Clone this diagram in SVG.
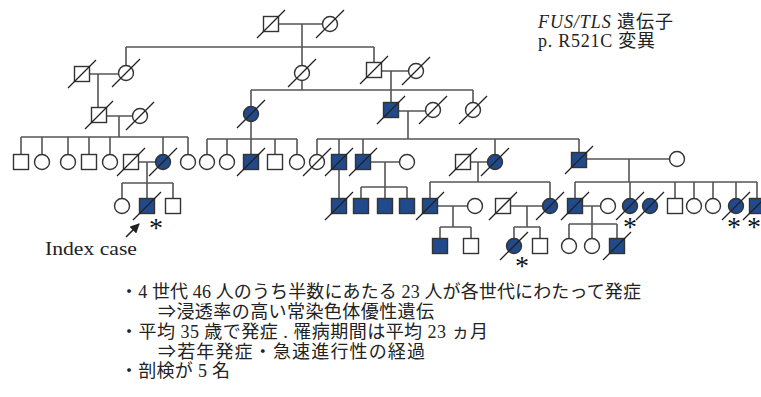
<svg xmlns="http://www.w3.org/2000/svg" width="761" height="397" viewBox="0 0 761 397">
<style>
.ln{stroke:#555;stroke-width:1.6;fill:none}
.n{fill:#fff;stroke:#333;stroke-width:1.4}
.a{fill:#204a8c;stroke:#333;stroke-width:1.4}
.sl{stroke:#222;stroke-width:1.3}
.t{font-family:"Liberation Serif","Noto Sans CJK JP",serif;font-size:18px;fill:#222}
.ast{font-family:"Liberation Serif",serif;font-size:28px;fill:#111;text-anchor:middle}
</style>
<defs>
<marker id="ah" viewBox="0 0 10 10" refX="9" refY="5" markerWidth="6" markerHeight="6" orient="auto"><path d="M0,0 L10,5 L0,10 z" fill="#222"/></marker>
</defs>
<rect width="761" height="397" fill="#fff"/>
<g id="connectors">
<path class="ln" d="M279,24H322M302,24V47M126,47H374M126,47V65.5M302,47V65.5M374,47V62.5"/>
<path class="ln" d="M89.5,74H118.5M98,74V107.5M302,80.5V90M251,90H473M251,90V106.5M473,90V102.5M381.5,71H408.5M391,71V102.5"/>
<path class="ln" d="M106.5,116H132.5M119,116V137M21,137H188M21,137V154.5M42,137V154.5M68,137V154.5M89,137V154.5M110,137V154.5M163,137V154.5M188,137V154.5"/>
<path class="ln" d="M251,121.5V154.5M207,139H297M207,139V154.5M227,139V154.5M275,139V154.5M297,139V154.5"/>
<path class="ln" d="M398.5,111H425.5M408,111V139M317,139H579M317,139V154.5M339,139V154.5M363,139V154.5M495,139V154.5M579,139V152.5"/>
<path class="ln" d="M138.5,162H155.5M147,162V198.5M122,183H173M122,183V198.5M173,183V198.5"/>
<path class="ln" d="M339,169.5V198.5M370.5,162H399.5M385,162V198.5M361,187H407M361,187V198.5M407,187V198.5"/>
<path class="ln" d="M470.5,162H487.5M478,162V182M430,182H550M430,182V198.5M550,182V198.5"/>
<path class="ln" d="M586.5,159H669.5M629,159V182M575,182H757M575,182V198.5M630,182V198.5M675,182V198.5M694,182V198.5M713,182V198.5M736,182V198.5M757,182V198.5"/>
<path class="ln" d="M437.5,206H467.5M453,206V227M440,227H471M440,227V238.5M471,227V238.5"/>
<path class="ln" d="M510.5,206H542.5M527,206V227M514,227H540M514,227V238.5M540,227V238.5"/>
<path class="ln" d="M582.5,206H600.5M592,206V238.5M569,224H617M569,224V238.5M617,224V238.5"/>
<line x1="126" y1="237" x2="139" y2="224" stroke="#222" stroke-width="1.6" marker-end="url(#ah)"/>
</g>
<!-- Generation I -->
<g id="I1"><rect class="n" x="263.5" y="16.5" width="15" height="15"/><line class="sl" x1="257" y1="38" x2="285" y2="10"/></g>
<g id="I2"><circle class="n" cx="330" cy="24" r="7.5"/><line class="sl" x1="316" y1="38" x2="344" y2="10"/></g>
<!-- Generation II -->
<g id="II1"><rect class="n" x="74.5" y="66.5" width="15" height="15"/><line class="sl" x1="68" y1="88" x2="96" y2="60"/></g>
<g id="II2"><circle class="n" cx="126" cy="73" r="7.5"/><line class="sl" x1="112" y1="87" x2="140" y2="59"/></g>
<g id="II3"><circle class="n" cx="302" cy="73" r="7.5"/><line class="sl" x1="288" y1="87" x2="316" y2="59"/></g>
<g id="II4"><rect class="n" x="366.5" y="62.5" width="15" height="15"/><line class="sl" x1="360" y1="84" x2="388" y2="56"/></g>
<g id="II5"><circle class="n" cx="416" cy="71" r="7.5"/><line class="sl" x1="402" y1="85" x2="430" y2="57"/></g>
<!-- Generation III -->
<g id="III1"><rect class="n" x="91.5" y="107.5" width="15" height="15"/><line class="sl" x1="85" y1="129" x2="113" y2="101"/></g>
<g id="III2"><circle class="n" cx="140" cy="116" r="7.5"/><line class="sl" x1="126" y1="130" x2="154" y2="102"/></g>
<g id="III3"><circle class="a" cx="251" cy="114" r="7.5"/><line class="sl" x1="237" y1="128" x2="265" y2="100"/></g>
<g id="III4"><rect class="a" x="383.5" y="102.5" width="15" height="15"/><line class="sl" x1="377" y1="124" x2="405" y2="96"/></g>
<g id="III5"><circle class="n" cx="433" cy="110" r="7.5"/><line class="sl" x1="419" y1="124" x2="447" y2="96"/></g>
<g id="III6"><circle class="n" cx="473" cy="110" r="7.5"/><line class="sl" x1="459" y1="124" x2="487" y2="96"/></g>
<!-- Generation IV -->
<g id="IV1"><rect class="n" x="13.5" y="154.5" width="15" height="15"/></g>
<g id="IV2"><circle class="n" cx="42" cy="162" r="7.5"/></g>
<g id="IV3"><circle class="n" cx="68" cy="162" r="7.5"/></g>
<g id="IV4"><rect class="n" x="81.5" y="154.5" width="15" height="15"/></g>
<g id="IV5"><circle class="n" cx="110" cy="162" r="7.5"/></g>
<g id="IV6"><rect class="n" x="123.5" y="154.5" width="15" height="15"/><line class="sl" x1="117" y1="176" x2="145" y2="148"/></g>
<g id="IV7"><circle class="a" cx="163" cy="162" r="7.5"/><line class="sl" x1="149" y1="176" x2="177" y2="148"/></g>
<g id="IV8"><circle class="n" cx="188" cy="162" r="7.5"/></g>
<g id="IV9"><circle class="n" cx="207" cy="162" r="7.5"/></g>
<g id="IV10"><circle class="n" cx="227" cy="162" r="7.5"/></g>
<g id="IV11"><rect class="a" x="243.5" y="154.5" width="15" height="15"/><line class="sl" x1="237" y1="176" x2="265" y2="148"/></g>
<g id="IV12"><rect class="n" x="267.5" y="154.5" width="15" height="15"/></g>
<g id="IV13"><circle class="n" cx="297" cy="162" r="7.5"/></g>
<g id="IV14"><circle class="n" cx="317" cy="162" r="7.5"/><line class="sl" x1="303" y1="176" x2="331" y2="148"/></g>
<g id="IV15"><rect class="a" x="331.5" y="154.5" width="15" height="15"/><line class="sl" x1="325" y1="176" x2="353" y2="148"/></g>
<g id="IV16"><rect class="a" x="355.5" y="154.5" width="15" height="15"/><line class="sl" x1="349" y1="176" x2="377" y2="148"/></g>
<g id="IV17"><circle class="n" cx="407" cy="162" r="7.5"/></g>
<g id="IV18"><rect class="n" x="455.5" y="154.5" width="15" height="15"/><line class="sl" x1="449" y1="176" x2="477" y2="148"/></g>
<g id="IV19"><circle class="a" cx="495" cy="162" r="7.5"/><line class="sl" x1="481" y1="176" x2="509" y2="148"/></g>
<g id="IV20"><rect class="a" x="571.5" y="152.5" width="15" height="15"/><line class="sl" x1="565" y1="174" x2="593" y2="146"/></g>
<g id="IV21"><circle class="n" cx="677" cy="159" r="7.5"/></g>
<!-- Generation V -->
<g id="V1"><circle class="n" cx="122" cy="206" r="7.5"/></g>
<g id="V2"><rect class="a" x="139.5" y="198.5" width="15" height="15"/><line class="sl" x1="133" y1="220" x2="161" y2="192"/><text class="ast" x="156" y="237">*</text></g>
<g id="V3"><rect class="n" x="165.5" y="198.5" width="15" height="15"/></g>
<g id="V4"><rect class="a" x="331.5" y="198.5" width="15" height="15"/><line class="sl" x1="325" y1="220" x2="353" y2="192"/></g>
<g id="V5"><rect class="a" x="353.5" y="198.5" width="15" height="15"/></g>
<g id="V6"><rect class="a" x="377.5" y="198.5" width="15" height="15"/></g>
<g id="V7"><rect class="a" x="399.5" y="198.5" width="15" height="15"/></g>
<g id="V8"><rect class="a" x="422.5" y="198.5" width="15" height="15"/><line class="sl" x1="416" y1="220" x2="444" y2="192"/></g>
<g id="V9"><circle class="n" cx="475" cy="206" r="7.5"/></g>
<g id="V10"><rect class="n" x="495.5" y="198.5" width="15" height="15"/><line class="sl" x1="489" y1="220" x2="517" y2="192"/></g>
<g id="V11"><circle class="a" cx="550" cy="206" r="7.5"/><line class="sl" x1="536" y1="220" x2="564" y2="192"/></g>
<g id="V12"><rect class="a" x="567.5" y="198.5" width="15" height="15"/><line class="sl" x1="561" y1="220" x2="589" y2="192"/></g>
<g id="V13"><circle class="n" cx="608" cy="206" r="7.5"/></g>
<g id="V14"><circle class="a" cx="630" cy="206" r="7.5"/><line class="sl" x1="616" y1="220" x2="644" y2="192"/><text class="ast" x="630" y="236">*</text></g>
<g id="V15"><circle class="a" cx="650" cy="206" r="7.5"/><line class="sl" x1="636" y1="220" x2="664" y2="192"/></g>
<g id="V16"><rect class="n" x="667.5" y="198.5" width="15" height="15"/></g>
<g id="V17"><circle class="n" cx="694" cy="206" r="7.5"/></g>
<g id="V18"><circle class="n" cx="713" cy="206" r="7.5"/></g>
<g id="V19"><circle class="a" cx="736" cy="206" r="7.5"/><line class="sl" x1="722" y1="220" x2="750" y2="192"/><text class="ast" x="734" y="236">*</text></g>
<g id="V20"><rect class="a" x="749.5" y="198.5" width="15" height="15"/><line class="sl" x1="743" y1="220" x2="771" y2="192"/><text class="ast" x="754" y="236">*</text></g>
<!-- Generation VI -->
<g id="VI1"><rect class="a" x="432.5" y="238.5" width="15" height="15"/></g>
<g id="VI2"><rect class="n" x="463.5" y="238.5" width="15" height="15"/></g>
<g id="VI3"><circle class="a" cx="514" cy="246" r="7.5"/><line class="sl" x1="500" y1="260" x2="528" y2="232"/><text class="ast" x="522" y="275">*</text></g>
<g id="VI4"><rect class="n" x="532.5" y="238.5" width="15" height="15"/></g>
<g id="VI5"><circle class="n" cx="569" cy="246" r="7.5"/></g>
<g id="VI6"><circle class="n" cx="592" cy="246" r="7.5"/></g>
<g id="VI7"><rect class="a" x="609.5" y="238.5" width="15" height="15"/><line class="sl" x1="603" y1="260" x2="631" y2="232"/></g>
<!-- Labels -->
<text class="t" x="45" y="255" textLength="92" lengthAdjust="spacingAndGlyphs">Index case</text>
<text class="t" x="538" y="28" textLength="135"><tspan font-style="italic">FUS/TLS</tspan> 遺伝子</text>
<text class="t" x="538" y="47" textLength="117">p. R521C 変異</text>
<text class="t" x="120" y="298" textLength="521">・4 世代 46 人のうち半数にあたる 23 人が各世代にわたって発症</text>
<text class="t" x="158" y="318" textLength="276">⇒浸透率の高い常染色体優性遺伝</text>
<text class="t" x="120" y="338" textLength="368">・平均 35 歳で発症 . 罹病期間は平均 23 ヵ月</text>
<text class="t" x="158" y="358" textLength="267">⇒若年発症・急速進行性の経過</text>
<text class="t" x="120" y="377" textLength="110">・剖検が 5 名</text>
</svg>
